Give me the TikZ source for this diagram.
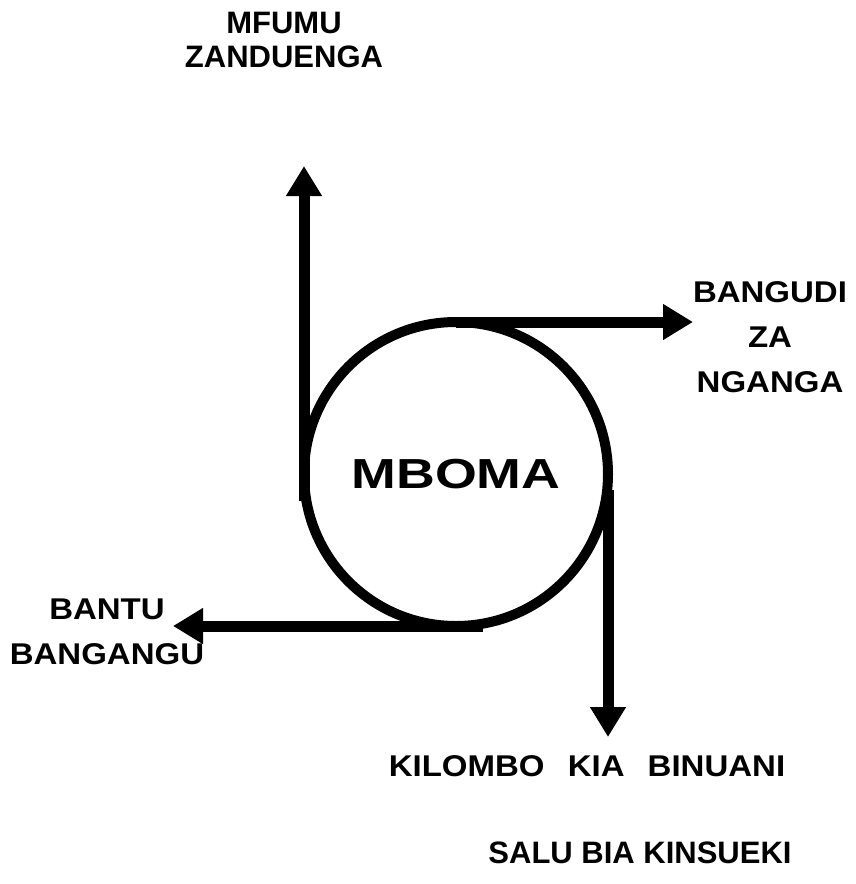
\documentclass[tikz,border=0pt]{standalone}
\usepackage{fontspec}
\setmainfont{Liberation Sans}
\newfontfamily\scanfont[FakeStretch=1.1]{Liberation Sans}
\newfontfamily\mbomafont[FakeStretch=1.28]{Liberation Sans}
\usetikzlibrary{arrows.meta, positioning}

\begin{document}
\begin{tikzpicture}[x=1pt, y=-1pt, >={Triangle[length=30pt, width=34pt]},
    lbl/.style={align=center, inner sep=0pt,
                font=\bfseries\fontsize{31}{34}\selectfont},
    scanlbl/.style={align=center, inner sep=0pt,
                font=\scanfont\bfseries\fontsize{30}{45}\selectfont},
    branch/.style={->, line width=11pt}]
  \useasboundingbox (0,0) rectangle (855,884);

  \node[draw, circle, line width=10pt, minimum size=304pt,
        inner sep=0pt, outer sep=0pt,
        font=\mbomafont\bfseries\fontsize{42}{50}\selectfont] (mboma) at (456,474) {MBOMA};

  % arrow ends
  \coordinate (tipN) at (306,166);
  \coordinate (tipE) at (693,320);
  \coordinate (tipS) at (607,737);
  \coordinate (tipW) at (173,627);

  \node[lbl] (mfumu) at (284,40) {MFUMU\\ZANDUENGA};
  \node[scanlbl] (bangudi) at (770,337) {BANGUDI\\ZA\\NGANGA};
  \node[scanlbl] (bantu) at (107,632) {BANTU\\BANGANGU};
  \node[scanlbl] (kilombo) at (587,766) {KILOMBO\hspace{14pt} KIA\hspace{14pt} BINUANI};
  \node[lbl] (salu) at (640,853) {SALU BIA KINSUEKI};

  \draw[branch] ([yshift=-27pt]mboma.west) -- (mboma.west |- tipN);
  \draw[branch] (mboma.north) -- (mboma.north -| tipE);
  \draw[branch] ([yshift=-16pt]mboma.east) -- (mboma.east |- tipS);
  \draw[branch] ([xshift=27pt]mboma.south) -- (mboma.south -| tipW);
\end{tikzpicture}
\end{document}
